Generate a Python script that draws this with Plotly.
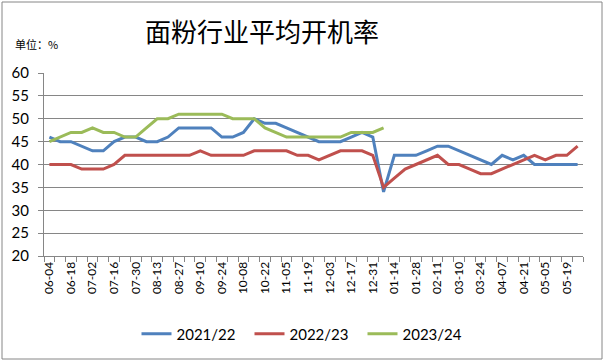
import plotly.graph_objects as go

categories = ["06-04","06-11","06-18","06-25","07-02","07-09","07-16","07-23","07-30","08-06",
              "08-13","08-20","08-27","09-03","09-10","09-17","09-24","10-01","10-08","10-15",
              "10-22","10-29","11-05","11-12","11-19","11-26","12-03","12-10","12-17","12-24",
              "12-31","01-07","01-14","01-21","01-28","02-04","02-11","02-25","03-10","03-17",
              "03-24","03-31","04-07","04-14","04-21","04-28","05-05","05-12","05-19","05-26"]

s2021 = [46,45,45,44,43,43,45,46,46,45,45,46,48,48,48,48,46,46,47,50,
         49,49,48,47,46,45,45,45,46,47,46,34,42,42,42,43,44,44,43,42,
         41,40,42,41,42,40,40,40,40,40]
s2022 = [40,40,40,39,39,39,40,42,42,42,42,42,42,42,43,42,42,42,42,43,
         43,43,43,42,42,41,42,43,43,43,42,35,37,39,40,41,42,40,40,39,
         38,38,39,40,41,42,41,42,42,44]
s2023 = [45,46,47,47,48,47,47,46,46,48,50,50,51,51,51,51,51,50,50,50,
         48,47,46,46,46,46,46,46,47,47,47,48]

series_names = ["2021/22", "2022/23", "2023/24"]
series_colors = ["#4F81BD", "#C0504D", "#9BBB59"]
y_ticks = [20, 25, 30, 35, 40, 45, 50, 55, 60]

tick_text = [c if i % 2 == 0 else "" for i, c in enumerate(categories)]

fig = go.Figure()
for name, vals, col in zip(series_names, [s2021, s2022, s2023], series_colors):
    fig.add_trace(go.Scatter(x=categories[:len(vals)], y=vals, name=name, mode="lines",
                             line=dict(color=col, width=3)))

L, R, T, B = 44, 22, 73, 108
W, H = 605, 364
pw, ph = W - L - R, H - T - B

fig.update_layout(
    width=W, height=H,
    margin=dict(l=L, r=R, t=T, b=B, autoexpand=False),
    paper_bgcolor="white", plot_bgcolor="white",
    font=dict(family="Lato, Noto Sans CJK SC", color="black"),
    title=dict(text="面粉行业平均开机率", x=262 / W, xanchor="center",
               y=1 - 33 / H, yanchor="middle",
               font=dict(family="Noto Sans CJK SC", size=26, color="black")),
    showlegend=True,
    legend=dict(orientation="h", x=(306 - L) / pw, xanchor="center",
                y=(H - B - 334) / ph, yanchor="middle", entrywidth=68,
                font=dict(size=15, family="Lato, Noto Sans CJK SC"),
                bgcolor="rgba(0,0,0,0)"),
    xaxis=dict(type="category", categoryorder="array", categoryarray=categories,
               tickmode="array", tickvals=categories, ticktext=tick_text,
               tickangle=-90, tickfont=dict(size=12), range=[-0.5, len(categories) - 0.5],
               showline=True, linecolor="#868686", linewidth=1,
               ticks="outside", ticklen=5, tickcolor="#868686", tickson="boundaries",
               showgrid=False, zeroline=False),
    yaxis=dict(range=[20, 60], tickmode="array", tickvals=y_ticks,
               tickfont=dict(size=15), showgrid=True, gridcolor="#868686", gridwidth=1,
               showline=True, linecolor="#868686", linewidth=1,
               ticks="outside", ticklen=5, tickcolor="#868686",
               ticklabelstandoff=6, zeroline=False),
    annotations=[dict(text="单位：%", xref="paper", yref="paper",
                      x=(13 - L) / pw, y=(H - B - 44) / ph, xanchor="left", yanchor="middle",
                      showarrow=False, font=dict(family="Noto Sans CJK SC", size=11, color="black"))],
    shapes=[dict(type="rect", xref="paper", yref="paper",
                 x0=(2 - L) / pw, x1=(602 - L) / pw,
                 y0=(H - B - 359) / ph, y1=(H - B - 2) / ph,
                 line=dict(color="#868686", width=1), fillcolor="rgba(0,0,0,0)", layer="below")],
)

fig.write_html("out.html", config={"displayModeBar": False},
               post_script="document.body.style.margin='0';document.body.style.padding='0';")
